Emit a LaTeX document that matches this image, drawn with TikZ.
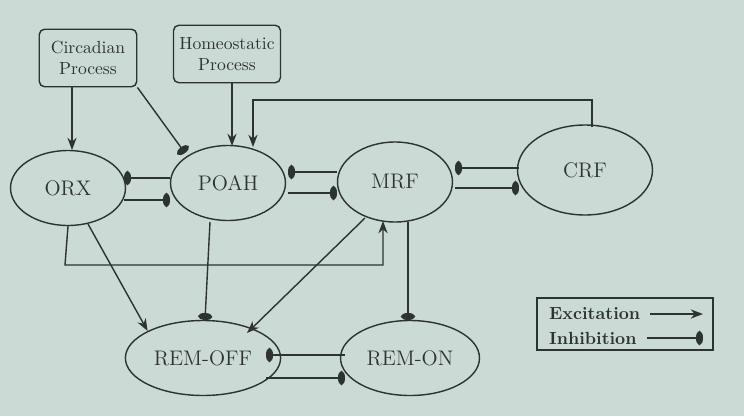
\documentclass[tikz,border=0pt]{standalone}
\usepackage{amsmath}
\usetikzlibrary{arrows.meta,shapes.geometric}
\definecolor{slide}{RGB}{204,218,214}
\definecolor{ink}{RGB}{45,50,50}
\tikzset{
  cell/.style={draw=ink, thick, ellipse, text=ink, font=\large},
  input/.style={draw=ink, thick, rounded corners=3pt, align=center, text=ink, minimum width=1.95cm, minimum height=1.15cm},
  exc/.style={draw=ink, thick, -{Stealth[length=7pt]}},
  inh/.style={draw=ink, thick, -{Ellipse[length=4pt,width=8pt]}},
}
\begin{document}
\begin{tikzpicture}[x=0.02cm,y=-0.02cm]
             \fill[slide] (0,0) rectangle (744,416);
             \useasboundingbox (0,0) rectangle (744,416);

             \node[input] (circ) at (88,58) {Circadian\\Process};
             \node[input, minimum width=2.1cm] (homeo) at (227,54) {Homeostatic\\Process};

             \node[cell, minimum width=2.3cm, minimum height=1.5cm] (orx) at (68,188) {ORX};
             \node[cell, minimum width=2.3cm, minimum height=1.5cm] (poah) at (228,183) {POAH};
             \node[cell, minimum width=2.3cm, minimum height=1.6cm] (mrf) at (395,182) {MRF};
             \node[cell, minimum width=2.7cm, minimum height=1.8cm] (crf) at (585,170) {CRF};
             \node[cell, minimum width=2.5cm, minimum height=1.5cm] (remoff) at (203,358) {REM-OFF};
             \node[cell, minimum width=2.6cm, minimum height=1.5cm] (remon) at (410,358) {REM-ON};

             % inputs
             \draw[exc] (72,87) -- (72,150);
             \draw[inh] (circ.south east) -- (185,153);
             \draw[exc] (232,83) -- (232,146);
             \draw[exc] (592,127) -- (592,100) -- (253,100) -- (253,147);

             % mutual links
             \draw[inh] (170,178) -- (124,178);
             \draw[inh] (124,200) -- (170,200);
             \draw[inh] (337,172) -- (288,172);
             \draw[inh] (288,193) -- (337,193);
             \draw[inh] (519,168) -- (455,168);
             \draw[inh] (455,188) -- (519,188);
             \draw[inh] (345,355) -- (266,355);
             \draw[inh] (266,378) -- (345,378);

             % down to REM
             \draw[exc] (orx.south) -- (65,265) -- (383,265) -- (383,221);
             \draw[exc] (88,224) -- (remoff.north west);
             \draw[inh] (210,222) -- (205,320);
             \draw[exc] (365,218) -- (247,333);
             \draw[inh] (408,222) -- (408,320);

             % key
             \draw[draw=ink, thick] (537,298) rectangle (713,350);
             \node[anchor=west, font=\bfseries, text=ink] (kexc) at (543,314) {Excitation};
             \node[anchor=west, font=\bfseries, text=ink] (kinh) at (543,338) {Inhibition};
             \draw[exc] (kexc.east) ++(4,0) -- (703,314);
             \draw[inh] (kinh.east) ++(4,0) -- (703,338);
\end{tikzpicture}
\end{document}
